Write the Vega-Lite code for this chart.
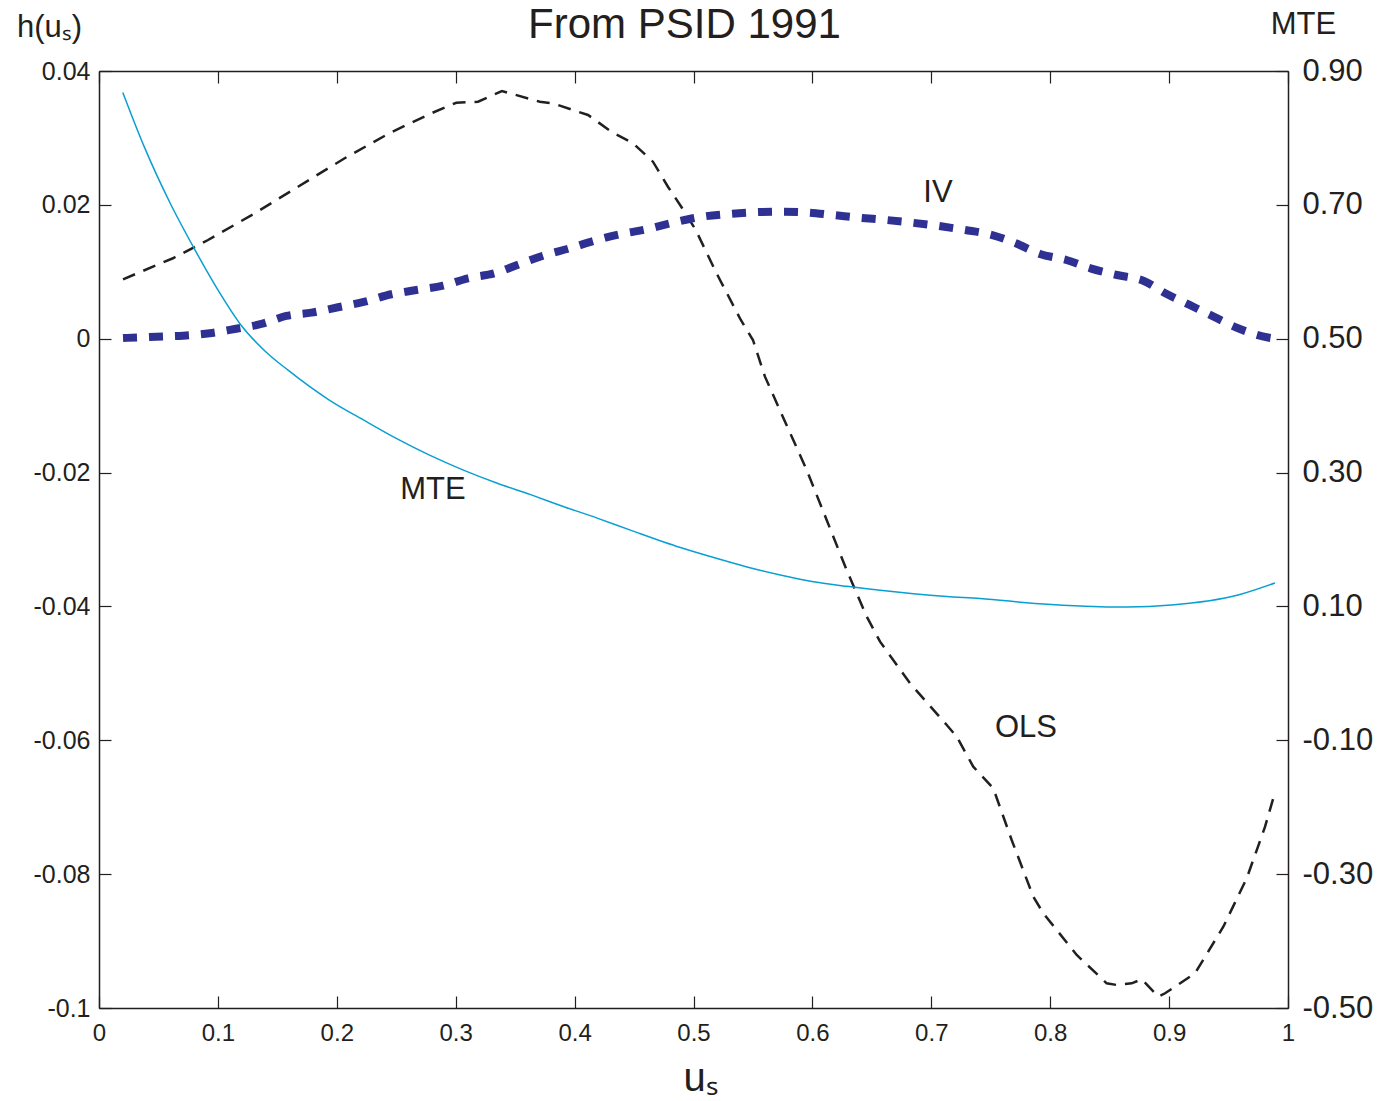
{
  "$schema": "https://vega.github.io/schema/vega-lite/v6.json",
  "width": 1189,
  "height": 937,
  "autosize": {"type": "none"},
  "padding": {"left": 99, "top": 71, "right": 109, "bottom": 93},
  "background": "white",
  "config": {
    "view": {"stroke": null},
    "axis": {
      "grid": false,
      "domainColor": "#231f20",
      "domainWidth": 1.5,
      "tickColor": "#231f20",
      "tickWidth": 1.2,
      "tickSize": -12,
      "labelFont": "Liberation Sans",
      "labelColor": "#231f20",
      "titleFont": "Liberation Sans",
      "titleColor": "#231f20",
      "titleFontWeight": "normal",
      "labelFlush": false,
      "labelOverlap": false
    }
  },
  "data": {
    "values": [
      {"series": "OLS", "u": 0.0202, "v": 0.00888},
      {"series": "OLS", "u": 0.0622, "v": 0.01202},
      {"series": "OLS", "u": 0.0917, "v": 0.01475},
      {"series": "OLS", "u": 0.131, "v": 0.01874},
      {"series": "OLS", "u": 0.1674, "v": 0.02271},
      {"series": "OLS", "u": 0.2066, "v": 0.02696},
      {"series": "OLS", "u": 0.245, "v": 0.03078},
      {"series": "OLS", "u": 0.2795, "v": 0.03368},
      {"series": "OLS", "u": 0.3005, "v": 0.03526},
      {"series": "OLS", "u": 0.3188, "v": 0.03541},
      {"series": "OLS", "u": 0.3389, "v": 0.03701},
      {"series": "OLS", "u": 0.3707, "v": 0.03541},
      {"series": "OLS", "u": 0.3818, "v": 0.03517},
      {"series": "OLS", "u": 0.4029, "v": 0.03392},
      {"series": "OLS", "u": 0.4113, "v": 0.03343},
      {"series": "OLS", "u": 0.4309, "v": 0.03093},
      {"series": "OLS", "u": 0.4491, "v": 0.0292},
      {"series": "OLS", "u": 0.4659, "v": 0.02645},
      {"series": "OLS", "u": 0.4785, "v": 0.02271},
      {"series": "OLS", "u": 0.4897, "v": 0.01972},
      {"series": "OLS", "u": 0.5019, "v": 0.01624},
      {"series": "OLS", "u": 0.5194, "v": 0.00977},
      {"series": "OLS", "u": 0.5398, "v": 0.0028},
      {"series": "OLS", "u": 0.55, "v": -0.00019},
      {"series": "OLS", "u": 0.5601, "v": -0.00567},
      {"series": "OLS", "u": 0.577, "v": -0.0124},
      {"series": "OLS", "u": 0.5952, "v": -0.01962},
      {"series": "OLS", "u": 0.612, "v": -0.02709},
      {"series": "OLS", "u": 0.6288, "v": -0.03456},
      {"series": "OLS", "u": 0.6457, "v": -0.04153},
      {"series": "OLS", "u": 0.6569, "v": -0.04527},
      {"series": "OLS", "u": 0.6821, "v": -0.05148},
      {"series": "OLS", "u": 0.713, "v": -0.05771},
      {"series": "OLS", "u": 0.7214, "v": -0.05946},
      {"series": "OLS", "u": 0.7353, "v": -0.06394},
      {"series": "OLS", "u": 0.7521, "v": -0.06717},
      {"series": "OLS", "u": 0.7676, "v": -0.0749},
      {"series": "OLS", "u": 0.7858, "v": -0.08337},
      {"series": "OLS", "u": 0.7942, "v": -0.08585},
      {"series": "OLS", "u": 0.8223, "v": -0.09208},
      {"series": "OLS", "u": 0.8475, "v": -0.09631},
      {"series": "OLS", "u": 0.8559, "v": -0.09656},
      {"series": "OLS", "u": 0.8685, "v": -0.09631},
      {"series": "OLS", "u": 0.877, "v": -0.09571},
      {"series": "OLS", "u": 0.8909, "v": -0.09831},
      {"series": "OLS", "u": 0.8966, "v": -0.0978},
      {"series": "OLS", "u": 0.9218, "v": -0.09481},
      {"series": "OLS", "u": 0.9456, "v": -0.08785},
      {"series": "OLS", "u": 0.9653, "v": -0.08062},
      {"series": "OLS", "u": 0.9807, "v": -0.07291},
      {"series": "OLS", "u": 0.9891, "v": -0.06773},
      {"series": "IV", "u": 0.0202, "v": 0.0001},
      {"series": "IV", "u": 0.0482, "v": 0.0003},
      {"series": "IV", "u": 0.0706, "v": 0.00045},
      {"series": "IV", "u": 0.0931, "v": 0.00081},
      {"series": "IV", "u": 0.1141, "v": 0.00145},
      {"series": "IV", "u": 0.1365, "v": 0.0022},
      {"series": "IV", "u": 0.1575, "v": 0.0034},
      {"series": "IV", "u": 0.1786, "v": 0.00389},
      {"series": "IV", "u": 0.201, "v": 0.0047},
      {"series": "IV", "u": 0.2235, "v": 0.00553},
      {"series": "IV", "u": 0.2458, "v": 0.00664},
      {"series": "IV", "u": 0.2669, "v": 0.00728},
      {"series": "IV", "u": 0.2893, "v": 0.00792},
      {"series": "IV", "u": 0.3103, "v": 0.00903},
      {"series": "IV", "u": 0.3328, "v": 0.00977},
      {"series": "IV", "u": 0.3538, "v": 0.01116},
      {"series": "IV", "u": 0.3734, "v": 0.0124},
      {"series": "IV", "u": 0.3959, "v": 0.01351},
      {"series": "IV", "u": 0.4169, "v": 0.01465},
      {"series": "IV", "u": 0.4393, "v": 0.01565},
      {"series": "IV", "u": 0.4603, "v": 0.01635},
      {"series": "IV", "u": 0.4828, "v": 0.01733},
      {"series": "IV", "u": 0.5038, "v": 0.01814},
      {"series": "IV", "u": 0.5287, "v": 0.01863},
      {"series": "IV", "u": 0.5509, "v": 0.01889},
      {"series": "IV", "u": 0.5731, "v": 0.01898},
      {"series": "IV", "u": 0.5934, "v": 0.01889},
      {"series": "IV", "u": 0.6175, "v": 0.01848},
      {"series": "IV", "u": 0.6397, "v": 0.01808},
      {"series": "IV", "u": 0.6619, "v": 0.01774},
      {"series": "IV", "u": 0.6841, "v": 0.01733},
      {"series": "IV", "u": 0.7063, "v": 0.01684},
      {"series": "IV", "u": 0.7285, "v": 0.01624},
      {"series": "IV", "u": 0.7489, "v": 0.0156},
      {"series": "IV", "u": 0.7711, "v": 0.01426},
      {"series": "IV", "u": 0.7914, "v": 0.01266},
      {"series": "IV", "u": 0.8136, "v": 0.01176},
      {"series": "IV", "u": 0.8339, "v": 0.01052},
      {"series": "IV", "u": 0.8562, "v": 0.00952},
      {"series": "IV", "u": 0.8783, "v": 0.00867},
      {"series": "IV", "u": 0.8968, "v": 0.00679},
      {"series": "IV", "u": 0.9172, "v": 0.00504},
      {"series": "IV", "u": 0.9375, "v": 0.00329},
      {"series": "IV", "u": 0.958, "v": 0.00156},
      {"series": "IV", "u": 0.9832, "v": 0.00018},
      {"series": "IV", "u": 0.99, "v": 0.0},
      {"series": "MTE", "u": 0.02, "v": 0.868},
      {"series": "MTE", "u": 0.038, "v": 0.787},
      {"series": "MTE", "u": 0.06, "v": 0.702},
      {"series": "MTE", "u": 0.08, "v": 0.635},
      {"series": "MTE", "u": 0.1, "v": 0.573},
      {"series": "MTE", "u": 0.12, "v": 0.519},
      {"series": "MTE", "u": 0.14, "v": 0.481},
      {"series": "MTE", "u": 0.159, "v": 0.453},
      {"series": "MTE", "u": 0.194, "v": 0.408},
      {"series": "MTE", "u": 0.222, "v": 0.379},
      {"series": "MTE", "u": 0.25, "v": 0.351},
      {"series": "MTE", "u": 0.278, "v": 0.326},
      {"series": "MTE", "u": 0.306, "v": 0.304},
      {"series": "MTE", "u": 0.335, "v": 0.284},
      {"series": "MTE", "u": 0.363, "v": 0.267},
      {"series": "MTE", "u": 0.391, "v": 0.249},
      {"series": "MTE", "u": 0.419, "v": 0.232},
      {"series": "MTE", "u": 0.447, "v": 0.214},
      {"series": "MTE", "u": 0.489, "v": 0.188},
      {"series": "MTE", "u": 0.517, "v": 0.173},
      {"series": "MTE", "u": 0.545, "v": 0.159},
      {"series": "MTE", "u": 0.573, "v": 0.147},
      {"series": "MTE", "u": 0.601, "v": 0.137},
      {"series": "MTE", "u": 0.629, "v": 0.13},
      {"series": "MTE", "u": 0.657, "v": 0.124},
      {"series": "MTE", "u": 0.685, "v": 0.119},
      {"series": "MTE", "u": 0.713, "v": 0.115},
      {"series": "MTE", "u": 0.741, "v": 0.112},
      {"series": "MTE", "u": 0.791, "v": 0.104},
      {"series": "MTE", "u": 0.865, "v": 0.099},
      {"series": "MTE", "u": 0.902, "v": 0.102},
      {"series": "MTE", "u": 0.958, "v": 0.117},
      {"series": "MTE", "u": 0.989, "v": 0.135},
      {"series": "label", "u": 0.7056, "v": 0.0218, "name": "IV"},
      {"series": "label", "u": 0.2809, "v": -0.0226, "name": "MTE"},
      {"series": "label", "u": 0.7796, "v": -0.0582, "name": "OLS"}
    ]
  },
  "layer": [
    {
      "encoding": {
        "x": {
          "field": "u",
          "type": "quantitative",
          "scale": {"domain": [0, 1], "nice": false, "zero": false},
          "axis": {
            "orient": "bottom",
            "values": [0, 0.1, 0.2, 0.3, 0.4, 0.5, 0.6, 0.7, 0.8, 0.9, 1],
            "labelExpr": "format(datum.value, '~g')",
            "labelFontSize": 24,
            "labelPadding": 25,
            "title": "uₛ",
            "titleFontSize": 40,
            "titleX": 601,
            "titleY": 82,
            "titleAlign": "center",
            "titleBaseline": "alphabetic"
          }
        },
        "y": {
          "field": "v",
          "type": "quantitative",
          "scale": {"domain": [-0.1, 0.04], "nice": false, "zero": false},
          "axis": {
            "orient": "left",
            "values": [-0.1, -0.08, -0.06, -0.04, -0.02, 0, 0.02, 0.04],
            "labelExpr": "datum.value == 0 ? '0' : (datum.value < 0 ? '-' : '') + format(abs(datum.value), '.2~f')",
            "labelFontSize": 25,
            "labelPadding": 21,
            "title": "h(uₛ)",
            "titleAngle": 0,
            "titleFontSize": 31,
            "titleX": -50,
            "titleY": -35,
            "titleAlign": "center",
            "titleBaseline": "alphabetic"
          }
        }
      },
      "layer": [
        {
          "transform": [{"filter": "datum.series == 'OLS'"}],
          "mark": {"type": "line", "color": "#231f20", "strokeWidth": 2.5, "strokeDash": [13, 9], "strokeCap": "butt"}
        },
        {
          "transform": [{"filter": "datum.series == 'IV'"}],
          "mark": {"type": "line", "color": "#2e3192", "strokeWidth": 8, "strokeDash": [14, 12], "strokeCap": "butt", "interpolate": "monotone"}
        },
        {
          "transform": [{"filter": "datum.series == 'label'"}],
          "mark": {"type": "text", "font": "Liberation Sans", "fontSize": 31, "color": "#231f20", "align": "center", "baseline": "middle"},
          "encoding": {"text": {"field": "name", "type": "nominal"}}
        }
      ]
    },
    {
      "transform": [{"filter": "datum.series == 'MTE'"}],
      "mark": {"type": "line", "color": "#0a9fd2", "strokeWidth": 1.5, "interpolate": "monotone"},
      "encoding": {
        "x": {
          "field": "u",
          "type": "quantitative",
          "scale": {"domain": [0, 1], "nice": false, "zero": false},
          "axis": {
            "orient": "top",
            "values": [0, 0.1, 0.2, 0.3, 0.4, 0.5, 0.6, 0.7, 0.8, 0.9, 1],
            "labels": false,
            "title": "From PSID 1991",
            "titleFontSize": 42,
            "titleX": 585,
            "titleY": -34,
            "titleAlign": "center",
            "titleBaseline": "alphabetic"
          }
        },
        "y": {
          "field": "v",
          "type": "quantitative",
          "scale": {"domain": [-0.5, 0.9], "nice": false, "zero": false},
          "axis": {
            "orient": "right",
            "values": [-0.5, -0.3, -0.1, 0.1, 0.3, 0.5, 0.7, 0.9],
            "labelExpr": "(datum.value < 0 ? '-' : '') + format(abs(datum.value), '.2f')",
            "labelFontSize": 31,
            "labelPadding": 26,
            "title": "MTE",
            "titleAngle": 0,
            "titleFontSize": 31,
            "titleX": 15,
            "titleY": -38,
            "titleAlign": "center",
            "titleBaseline": "alphabetic"
          }
        }
      }
    }
  ],
  "resolve": {
    "scale": {"x": "independent", "y": "independent"},
    "axis": {"x": "independent", "y": "independent"}
  }
}
